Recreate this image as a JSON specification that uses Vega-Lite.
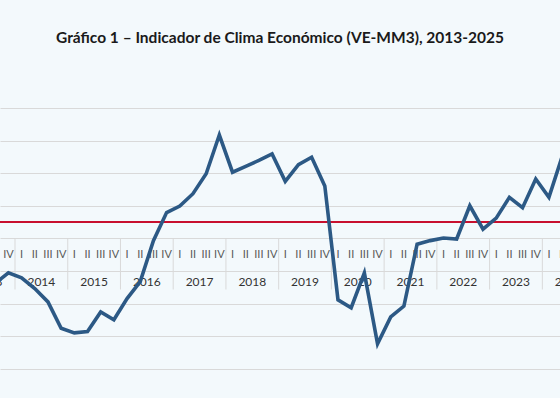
{
  "$schema": "https://vega.github.io/schema/vega-lite/v6.json",
  "width": 560,
  "height": 290,
  "autosize": "none",
  "padding": {"left": 0, "right": 0, "top": 108, "bottom": 0},
  "background": "#F3F9FC",
  "config": {
    "view": {"stroke": null},
    "font": "Lato",
    "axisY": {
      "grid": true,
      "gridColor": "#D9D9D9",
      "gridWidth": 1,
      "labels": false,
      "ticks": false,
      "domain": false,
      "title": null
    }
  },
  "title": {
    "text": "Gráfico 1 – Indicador de Clima Económico (VE-MM3), 2013-2025",
    "font": "Lato",
    "fontSize": 15.5,
    "fontWeight": "bold",
    "color": "#1a1a1a",
    "anchor": "middle",
    "offset": 62
  },
  "datasets": {
    "series": [
      {"year": 2013, "q": "III", "t": 2, "value": -1.38},
      {"year": 2013, "q": "IV", "t": 3, "value": -1.06},
      {"year": 2014, "q": "I", "t": 4, "value": -1.21},
      {"year": 2014, "q": "II", "t": 5, "value": -1.54},
      {"year": 2014, "q": "III", "t": 6, "value": -1.95},
      {"year": 2014, "q": "IV", "t": 7, "value": -2.76},
      {"year": 2015, "q": "I", "t": 8, "value": -2.9},
      {"year": 2015, "q": "II", "t": 9, "value": -2.86},
      {"year": 2015, "q": "III", "t": 10, "value": -2.26},
      {"year": 2015, "q": "IV", "t": 11, "value": -2.5},
      {"year": 2016, "q": "I", "t": 12, "value": -1.85},
      {"year": 2016, "q": "II", "t": 13, "value": -1.33},
      {"year": 2016, "q": "III", "t": 14, "value": -0.07},
      {"year": 2016, "q": "IV", "t": 15, "value": 0.79},
      {"year": 2017, "q": "I", "t": 16, "value": 0.99},
      {"year": 2017, "q": "II", "t": 17, "value": 1.37},
      {"year": 2017, "q": "III", "t": 18, "value": 1.98},
      {"year": 2017, "q": "IV", "t": 19, "value": 3.17},
      {"year": 2018, "q": "I", "t": 20, "value": 2.03},
      {"year": 2018, "q": "II", "t": 21, "value": 2.21},
      {"year": 2018, "q": "III", "t": 22, "value": 2.39},
      {"year": 2018, "q": "IV", "t": 23, "value": 2.59},
      {"year": 2019, "q": "I", "t": 24, "value": 1.75},
      {"year": 2019, "q": "II", "t": 25, "value": 2.26},
      {"year": 2019, "q": "III", "t": 26, "value": 2.49},
      {"year": 2019, "q": "IV", "t": 27, "value": 1.61},
      {"year": 2020, "q": "I", "t": 28, "value": -1.89},
      {"year": 2020, "q": "II", "t": 29, "value": -2.13},
      {"year": 2020, "q": "III", "t": 30, "value": -1.06},
      {"year": 2020, "q": "IV", "t": 31, "value": -3.24},
      {"year": 2021, "q": "I", "t": 32, "value": -2.41},
      {"year": 2021, "q": "II", "t": 33, "value": -2.08},
      {"year": 2021, "q": "III", "t": 34, "value": -0.18},
      {"year": 2021, "q": "IV", "t": 35, "value": -0.07},
      {"year": 2022, "q": "I", "t": 36, "value": 0.01},
      {"year": 2022, "q": "II", "t": 37, "value": -0.02},
      {"year": 2022, "q": "III", "t": 38, "value": 1.0},
      {"year": 2022, "q": "IV", "t": 39, "value": 0.28},
      {"year": 2023, "q": "I", "t": 40, "value": 0.62},
      {"year": 2023, "q": "II", "t": 41, "value": 1.26},
      {"year": 2023, "q": "III", "t": 42, "value": 0.94},
      {"year": 2023, "q": "IV", "t": 43, "value": 1.82},
      {"year": 2024, "q": "I", "t": 44, "value": 1.26},
      {"year": 2024, "q": "II", "t": 45, "value": 2.51}
    ],
    "years": [
      {"year": "2013", "start": -0.5, "center": 1.5},
      {"year": "2014", "start": 3.5, "center": 5.5},
      {"year": "2015", "start": 7.5, "center": 9.5},
      {"year": "2016", "start": 11.5, "center": 13.5},
      {"year": "2017", "start": 15.5, "center": 17.5},
      {"year": "2018", "start": 19.5, "center": 21.5},
      {"year": "2019", "start": 23.5, "center": 25.5},
      {"year": "2020", "start": 27.5, "center": 29.5},
      {"year": "2021", "start": 31.5, "center": 33.5},
      {"year": "2022", "start": 35.5, "center": 37.5},
      {"year": "2023", "start": 39.5, "center": 41.5},
      {"year": "2024", "start": 43.5, "center": 45.5}
    ]
  },
  "layer": [
    {
      "data": {"name": "years"},
      "mark": {"type": "rule", "color": "#D9D9D9", "strokeWidth": 1, "clip": true},
      "encoding": {
        "x": {
          "field": "start",
          "type": "quantitative",
          "scale": {"domain": [2.362, 44.84], "nice": false, "zero": false},
          "axis": null
        },
        "y": {
          "datum": 0,
          "type": "quantitative",
          "scale": {"domain": [-4.9, 4], "nice": false, "zero": false},
          "axis": {"values": [-4, -3, -2, -1, 0, 1, 2, 3, 4]}
        },
        "y2": {"datum": -1.57}
      }
    },
    {
      "data": {"name": "series"},
      "mark": {"type": "rule", "color": "#C8102E", "strokeWidth": 2},
      "encoding": {
        "y": {"datum": 0.5, "type": "quantitative", "axis": {"values": [-4, -3, -2, -1, 0, 1, 2, 3, 4]}}
      }
    },
    {
      "data": {"name": "series"},
      "mark": {"type": "text", "fontSize": 11, "color": "#595959", "baseline": "middle", "align": "center", "clip": true},
      "encoding": {
        "x": {"field": "t", "type": "quantitative", "axis": null},
        "y": {"datum": -0.5, "type": "quantitative", "axis": {"values": [-4, -3, -2, -1, 0, 1, 2, 3, 4]}},
        "text": {"field": "q"}
      }
    },
    {
      "data": {"name": "years"},
      "mark": {"type": "text", "fontSize": 12, "color": "#333333", "baseline": "middle", "align": "center", "clip": true},
      "encoding": {
        "x": {"field": "center", "type": "quantitative", "axis": null},
        "y": {"datum": -1.33, "type": "quantitative", "axis": {"values": [-4, -3, -2, -1, 0, 1, 2, 3, 4]}},
        "text": {"field": "year"}
      }
    },
    {
      "data": {"name": "series"},
      "mark": {"type": "line", "color": "#2C5985", "strokeWidth": 3.6, "clip": true},
      "encoding": {
        "x": {"field": "t", "type": "quantitative", "axis": null},
        "y": {"field": "value", "type": "quantitative", "axis": {"values": [-4, -3, -2, -1, 0, 1, 2, 3, 4]}}
      }
    }
  ]
}
